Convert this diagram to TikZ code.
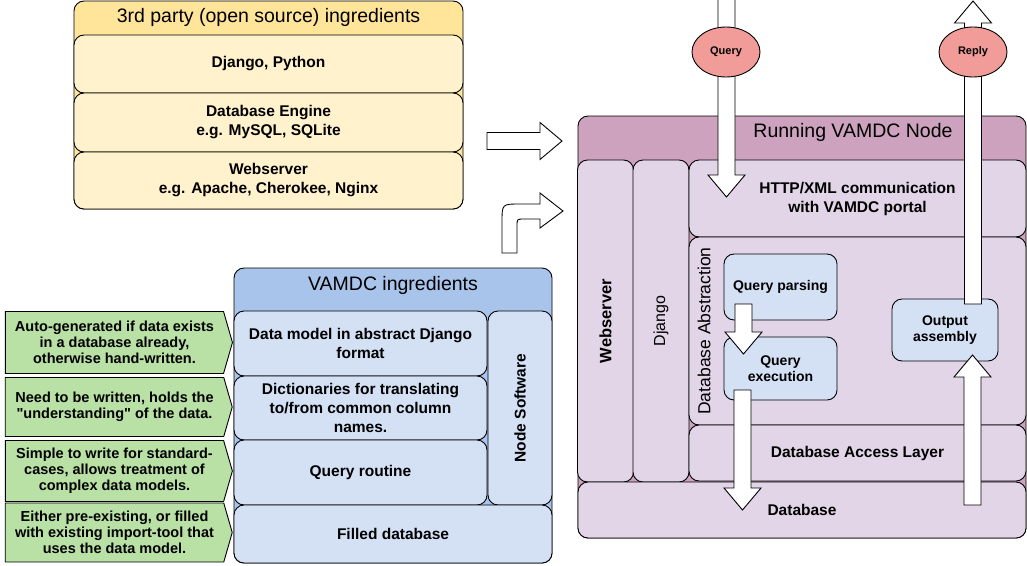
\documentclass[tikz,border=0pt]{standalone}
\usepackage{fontspec}
\setmainfont{Liberation Sans}[Ligatures=TeXOff]
\usetikzlibrary{shapes.geometric,shapes.symbols}

\definecolor{yellowhead}{HTML}{FFE599}
\definecolor{yellowbox}{HTML}{FFF2CC}
\definecolor{bluehead}{HTML}{A9C4EB}
\definecolor{bluebox}{HTML}{D4E1F5}
\definecolor{purplehead}{HTML}{CDA2BE}
\definecolor{purplebox}{HTML}{E1D5E7}
\definecolor{greennote}{HTML}{B9E0A5}
\definecolor{msgred}{HTML}{F19C99}

\tikzset{
	box/.style={draw=black,line width=0.9pt,rounded corners=10pt,inner sep=0pt,align=center,
		font=\fontsize{15.5}{19}\selectfont\bfseries},
	title/.style={inner sep=0pt,font=\fontsize{19.5}{23}\selectfont},
	smallbox/.style={box,fill=bluebox,font=\fontsize{14}{16}\selectfont\bfseries},
	note/.style={shape=signal,signal to=east,signal pointer angle=148,draw=black,line width=0.9pt,
		fill=greennote,inner sep=0pt,align=center,font=\fontsize{14.5}{16}\selectfont\bfseries},
	message/.style={ellipse,draw=black,line width=0.9pt,fill=msgred,inner sep=0pt,
		minimum width=68,minimum height=50,font=\fontsize{11}{13}\selectfont\bfseries},
	blockarrow/.style={draw=black,fill=white,line width=0.9pt,line join=miter}
}

% block arrows: centre, start, tip (pixel units)
\newcommand\blockdown[3]{\draw[blockarrow] ({#1-8.5},#2) -- ({#1-8.5},{#3-22}) -- ({#1-18.5},{#3-22})
	-- (#1,#3) -- ({#1+18.5},{#3-22}) -- ({#1+8.5},{#3-22}) -- ({#1+8.5},#2) -- cycle;}
\newcommand\blockup[3]{\draw[blockarrow] ({#1-8.5},#2) -- ({#1-8.5},{#3+22}) -- ({#1-18.5},{#3+22})
	-- (#1,#3) -- ({#1+18.5},{#3+22}) -- ({#1+8.5},{#3+22}) -- ({#1+8.5},#2) -- cycle;}
\newcommand\blockright[3]{\draw[blockarrow] (#2,{#1-8.5}) -- ({#3-22},{#1-8.5}) -- ({#3-22},{#1-18.5})
	-- (#3,#1) -- ({#3-22},{#1+18.5}) -- ({#3-22},{#1+8.5}) -- (#2,{#1+8.5}) -- cycle;}

\begin{document}
\begin{tikzpicture}[x=1pt,y=-1pt]
	\useasboundingbox (0,0) rectangle (1027,565);

	% 3rd party ingredients
	\node[box,fill=yellowhead,minimum width=389,minimum height=208] (thirdparty) at (268.5,105) {};
	\node[title] (thirdtitle) at (268.5,17) {3rd party (open source) ingredients};
	\node[box,fill=yellowbox,minimum width=389,minimum height=58] (djangopy) at (268.5,64) {Django, Python};
	\node[box,fill=yellowbox,minimum width=389,minimum height=59] (dbengine) at (268.5,122.5) {Database Engine\\e.g. MySQL, SQLite};
	\node[box,fill=yellowbox,minimum width=389,minimum height=57] (webengine) at (268.5,180.5) {Webserver\\e.g. Apache, Cherokee, Nginx};

	% VAMDC ingredients
	\node[box,fill=bluehead,minimum width=318,minimum height=295] (vamdc) at (393,415.5) {};
	\node[title] (vamdctitle) at (393,285) {VAMDC ingredients};
	\node[box,fill=bluebox,minimum width=253,minimum height=65] (datamodel) at (360.5,343.5) {Data model in abstract Django\\format};
	\node[box,fill=bluebox,minimum width=253,minimum height=64] (dicts) at (360.5,408) {Dictionaries for translating\\to/from common column\\names.};
	\node[box,fill=bluebox,minimum width=253,minimum height=65] (queryroutine) at (360.5,472.5) {Query routine};
	\node[box,fill=bluebox,rotate=90,minimum width=194,minimum height=64] (nodesoft) at (520,408) {Node Software};
	\node[box,fill=bluebox,minimum width=318,minimum height=58] (filleddb) at (393,534) {Filled database};

	% notes
	\node[note,minimum width=227,minimum height=62] (note1) at (114.5,342.5) {Auto-generated if data exists\\in a database already,\\otherwise hand-written.};
	\node[note,minimum width=227,minimum height=59] (note2) at (114.5,407) {Need to be written, holds the\\"understanding" of the data.};
	\node[note,minimum width=227,minimum height=61] (note3) at (114.5,471) {Simple to write for standard-\\cases, allows treatment of\\complex data models.};
	\node[note,minimum width=227,minimum height=59] (note4) at (114.5,532.5) {Either pre-existing, or filled\\with existing import-tool that\\uses the data model.};

	% running node
	\node[box,fill=purplehead,minimum width=448,minimum height=422] (running) at (802,327) {};
	\node[title] (runningtitle) at (853,132) {Running VAMDC Node};
	\node[box,fill=purplebox,rotate=90,minimum width=322,minimum height=56,font=\fontsize{16.5}{19}\selectfont\bfseries] (rweb) at (605.5,321) {Webserver};
	\node[box,fill=purplebox,rotate=90,minimum width=322,minimum height=56,font=\fontsize{16}{19}\selectfont] (rdjango) at (661,321) {Django};
	\node[box,fill=purplebox,minimum width=337,minimum height=77] (http) at (857.5,198.5) {HTTP/XML communication\\with VAMDC portal};
	\node[box,fill=purplebox,minimum width=337,minimum height=188] (dbabs) at (857.5,331) {};
	\node[title,rotate=90,font=\fontsize{17.5}{19}\selectfont] (dbabstitle) at (704,331) {Database Abstraction};
	\node[box,fill=purplebox,minimum width=337,minimum height=56] (dal) at (857.5,453) {Database Access Layer};
	\node[box,fill=purplebox,minimum width=448,minimum height=56] (database) at (802,510) {Database};
	\node[smallbox,minimum width=113,minimum height=66] (qparse) at (780.5,287) {Query parsing};
	\node[smallbox,minimum width=113,minimum height=63] (qexec) at (780.5,368.5) {Query\\execution};
	\node[smallbox,minimum width=106,minimum height=62] (outasm) at (945,330) {Output\\assembly};

	% block arrows
	\blockright{141}{487}{562}
	\draw[blockarrow] (502,253) -- (502,222) .. controls (502,204) .. (520,204) -- (540,204) -- (540,193)
		-- (563,211) -- (540,228) -- (540,219) -- (524,219) .. controls (517,219) .. (517,226) -- (517,253) -- cycle;
	\blockdown{726.5}{-3}{197}
	\blockup{973}{304}{1}
	\blockdown{743.5}{304}{354}
	\blockdown{742.5}{390}{510}
	\blockup{972.5}{505}{355}

	% messages
	\node[message] (query) at (726,52) {Query};
	\node[message] (reply) at (973,52) {Reply};
\end{tikzpicture}
\end{document}
